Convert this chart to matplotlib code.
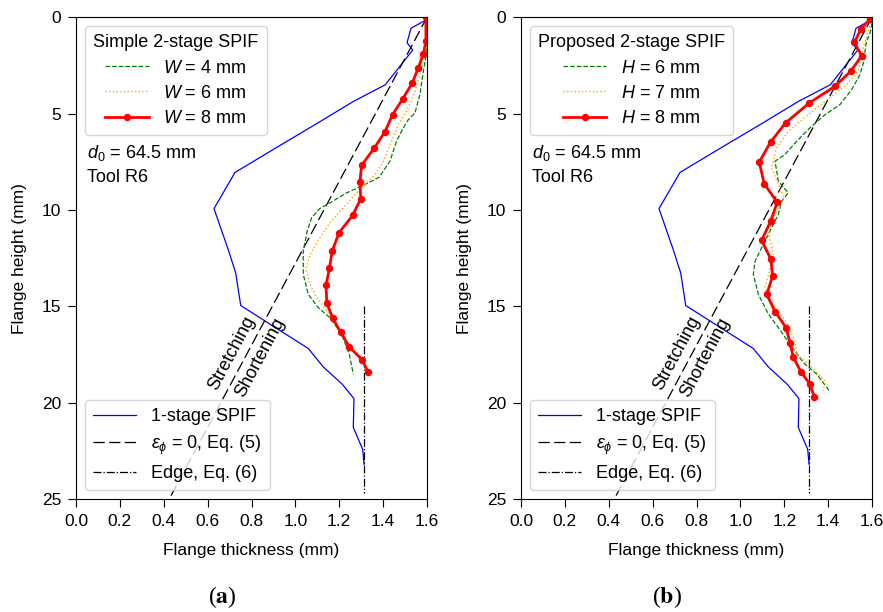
import matplotlib
matplotlib.use("Agg")
import matplotlib.pyplot as plt

plt.rcParams['font.family'] = ['Liberation Sans', 'DejaVu Sans']
plt.rcParams['mathtext.fontset'] = 'custom'
plt.rcParams['mathtext.rm'] = 'Liberation Sans'
plt.rcParams['mathtext.it'] = 'Liberation Sans:italic'
plt.rcParams['mathtext.bf'] = 'Liberation Sans:bold'

# ---- data ----
one_stage_t = [1.595, 1.527, 1.509, 1.535, 1.41, 1.264, 1.097, 0.930, 0.725, 0.629, 0.694, 0.728,
               0.751, 1.059, 1.127, 1.215, 1.267, 1.264, 1.307, 1.313]
one_stage_h = [0.14, 0.57, 1.32, 1.70, 3.5, 4.37, 5.52, 6.65, 8.05, 9.93, 12.06, 13.27,
               14.96, 17.19, 18.14, 19.06, 19.79, 21.28, 22.43, 23.2]

eps_t = [1.6, 0.425]
eps_h = [0.0, 25.0]
edge_t = [1.313, 1.313]
edge_h = [15.0, 24.7]

# Panel (a): simple 2-stage SPIF
w8_t = [1.595, 1.595, 1.583, 1.560, 1.533, 1.489, 1.443, 1.408, 1.360, 1.302, 1.294, 1.298, 1.261,
        1.199, 1.168, 1.155, 1.140, 1.143, 1.170, 1.206, 1.246, 1.305, 1.330]
w8_h = [0.0, 1.25, 1.91, 2.63, 3.41, 4.24, 5.05, 5.95, 6.78, 7.68, 8.56, 9.42, 10.28,
        11.18, 12.13, 13.03, 13.90, 14.81, 15.62, 16.33, 17.11, 17.78, 18.40]
w4_t = [1.60, 1.594, 1.583, 1.568, 1.545, 1.515, 1.492, 1.461, 1.431, 1.382, 1.317, 1.234, 1.158,
        1.112, 1.074, 1.054, 1.036, 1.036, 1.059, 1.104, 1.158, 1.211, 1.246, 1.264]
w4_h = [1.3, 2.1, 2.81, 4.0, 4.97, 5.31, 5.74, 6.43, 7.47, 8.3, 8.68, 9.11, 9.63,
        9.92, 10.4, 11.1, 12.13, 13.34, 14.38, 15.07, 15.59, 16.45, 17.49, 18.52]
w6_t = [1.60, 1.594, 1.568, 1.545, 1.507, 1.469, 1.439, 1.401, 1.363, 1.317, 1.272, 1.218, 1.158,
        1.112, 1.067, 1.048, 1.067, 1.097, 1.127, 1.158, 1.181, 1.21, 1.25, 1.30]
w6_h = [1.2, 1.77, 2.98, 3.84, 4.88, 5.57, 6.43, 7.47, 8.16, 8.68, 9.2, 9.89, 10.66,
        11.44, 12.3, 13.08, 13.86, 14.55, 14.98, 15.5, 15.84, 16.4, 17.1, 17.8]

# Panel (b): proposed 2-stage SPIF
h8_t = [1.59, 1.55, 1.52, 1.553, 1.503, 1.431, 1.314, 1.206, 1.138, 1.086, 1.109, 1.168, 1.138,
        1.097, 1.139, 1.147, 1.120, 1.158, 1.208, 1.226, 1.241, 1.276, 1.317, 1.337]
h8_h = [0.1, 0.6, 1.3, 2.0, 2.8, 3.58, 4.45, 5.48, 6.47, 7.52, 8.64, 9.6, 10.58,
        11.58, 12.56, 13.43, 14.38, 15.27, 16.1, 16.88, 17.63, 18.4, 19.04, 19.7]
h6_t = [1.60, 1.591, 1.575, 1.568, 1.565, 1.545, 1.507, 1.454, 1.386, 1.317, 1.257, 1.203, 1.158,
        1.173, 1.218, 1.188, 1.173, 1.120, 1.067, 1.059, 1.082, 1.128, 1.173, 1.226, 1.287, 1.348, 1.408]
h6_h = [0.3, 0.82, 1.25, 1.77, 2.2, 2.98, 3.76, 4.53, 5.05, 5.74, 6.43, 7.12, 7.47,
        8.5, 9.11, 9.54, 10.23, 11.44, 12.65, 13.34, 14.38, 15.41, 16.1, 16.97, 17.92, 18.52, 19.42]
h7_t = [1.60, 1.586, 1.560, 1.537, 1.477, 1.386, 1.310, 1.218, 1.165, 1.143, 1.173, 1.200, 1.158,
        1.128, 1.150, 1.128, 1.112, 1.158, 1.211, 1.249, 1.257, 1.310, 1.355, 1.386, 1.378]
h7_h = [0.1, 0.6, 1.6, 2.81, 3.58, 4.36, 5.05, 5.92, 6.78, 7.81, 8.68, 9.37, 10.23,
        11.1, 12.3, 13.34, 14.03, 15.07, 15.85, 16.8, 17.49, 18.0, 18.52, 18.87, 19.39]

panels = [
    dict(title="Simple 2-stage SPIF", var="W", label="a",
         series=[(w4_t, w4_h, "4"), (w6_t, w6_h, "6"), (w8_t, w8_h, "8")]),
    dict(title="Proposed 2-stage SPIF", var="H", label="b",
         series=[(h6_t, h6_h, "6"), (h7_t, h7_h, "7"), (h8_t, h8_h, "8")]),
]

W, H = 883, 612
fig = plt.figure(figsize=(W / 100, H / 100), dpi=100)
ax_lefts = [76, 521]
FS = 12.5
LFS = 13
EPS_DASH = (9, 3.5)

for i, p in enumerate(panels):
    ax = fig.add_axes([ax_lefts[i] / W, (H - 499) / H, 351 / W, 481.7 / H])
    b1, = ax.plot(one_stage_t, one_stage_h, color='blue', lw=0.9, label="1-stage SPIF")
    b2, = ax.plot(eps_t, eps_h, color='black', lw=0.9, dashes=EPS_DASH,
                  label=r"$\varepsilon_\phi$ = 0, Eq. (5)")
    b3, = ax.plot(edge_t, edge_h, color='black', lw=0.9, linestyle='-.', label="Edge, Eq. (6)")

    s = p["series"]
    g, = ax.plot(s[0][0], s[0][1], color='green', lw=0.9, linestyle='--',
                 label=rf"${p['var']}$ = {s[0][2]} mm")
    o, = ax.plot(s[1][0], s[1][1], color='orange', lw=1.0, linestyle=':',
                 label=rf"${p['var']}$ = {s[1][2]} mm")
    r, = ax.plot(s[2][0], s[2][1], color='red', lw=2.0, marker='o', markersize=4.3,
                 label=rf"${p['var']}$ = {s[2][2]} mm")

    ax.set_xlim(0, 1.6)
    ax.set_ylim(25, 0)
    ax.set_xticks([0.0, 0.2, 0.4, 0.6, 0.8, 1.0, 1.2, 1.4, 1.6])
    ax.set_yticks([0, 5, 10, 15, 20, 25])
    ax.tick_params(labelsize=FS, length=6, pad=4.5)
    ax.set_xlabel("Flange thickness (mm)", fontsize=FS, labelpad=10.5)
    ax.set_ylabel("Flange height (mm)", fontsize=FS, labelpad=11)

    leg1 = ax.legend(handles=[g, o, r], title=p["title"], loc='upper left',
                     fontsize=LFS, title_fontsize=LFS, handlelength=2.4,
                     borderaxespad=0.5, labelspacing=0.45, borderpad=0.45)
    ax.add_artist(leg1)
    ax.legend(handles=[b1, b2, b3], loc='lower left', fontsize=LFS,
              handlelength=2.4, borderaxespad=0.5, labelspacing=0.45, borderpad=0.45)

    ax.text(0.03, 0.718, r"$d_0$ = 64.5 mm", transform=ax.transAxes,
            fontsize=LFS, va='center', ha='left')
    ax.text(0.03, 0.667, "Tool R6", transform=ax.transAxes,
            fontsize=LFS, va='center', ha='left')

    ax.text(0.712, 17.44, "Stretching", rotation=62, rotation_mode='anchor',
            ha='center', va='center', fontsize=LFS)
    ax.text(0.839, 17.64, "Shortening", rotation=62, rotation_mode='anchor',
            ha='center', va='center', fontsize=LFS)

    fig.text((ax_lefts[i] + 146) / W, 1 - 597 / H,
             "(" + r"$\mathbf{" + p["label"] + "}$" + ")",
             ha='center', va='center', fontsize=17, family='Liberation Serif',
             math_fontfamily='stix')

fig.savefig("out.png", dpi=100)
